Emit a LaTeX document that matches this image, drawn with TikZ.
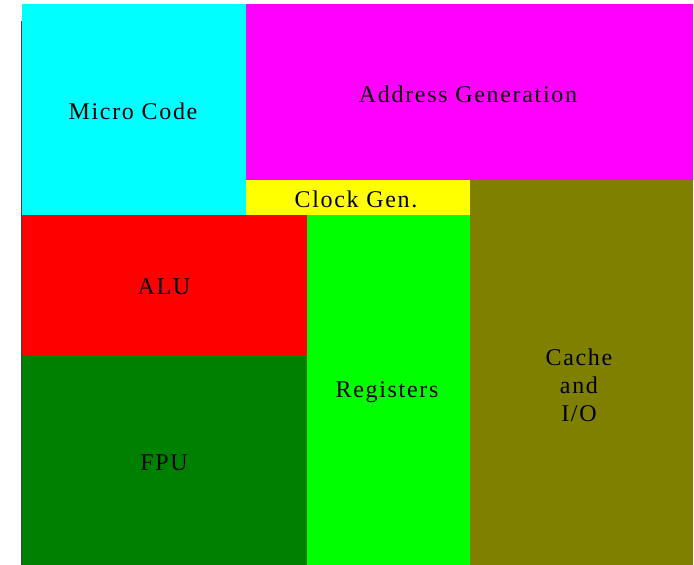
\documentclass[tikz,border=0pt]{standalone}
\usepackage{fontspec}
\newfontfamily\lblfont[LetterSpace=7]{Liberation Serif}
\definecolor{microcol}{RGB}{0,255,255}
\definecolor{addrcol}{RGB}{255,0,255}
\definecolor{clockcol}{RGB}{255,255,0}
\definecolor{alucol}{RGB}{255,0,0}
\definecolor{fpucol}{RGB}{0,128,0}
\definecolor{regscol}{RGB}{0,255,0}
\definecolor{cachecol}{RGB}{128,128,0}
\begin{document}
\begin{tikzpicture}[x=1pt,y=-1pt,lbl/.style={font=\lblfont\fontsize{24}{28}\selectfont,align=center,inner sep=0pt}]
		\useasboundingbox (0,0) rectangle (694,565);
		% blocks of the chip
		\fill[microcol] (22,4) rectangle (246,215);
		\fill[addrcol] (246,4) rectangle (693,180);
		\fill[clockcol] (246,180) rectangle (470,215);
		\fill[alucol] (21,215) rectangle (307,355);
		\fill[fpucol] (21,355) rectangle (307,565);
		\fill[regscol] (307,215) rectangle (470,565);
		\fill[cachecol] (470,180) rectangle (693,565);
		\draw[black!75,line width=1pt] (21.5,21) -- (21.5,565);
		% labels
		\node[lbl] (micro) at (133,111) {Micro Code};
		\node[lbl] (addr) at (468,94) {Address Generation};
		\node[lbl] (clock) at (356,199) {Clock Gen.};
		\node[lbl] (alu) at (164,287) {ALU};
		\node[lbl] (fpu) at (164,463) {FPU};
		\node[lbl] (regs) at (387,392) {Registers};
		\node[lbl] (cache) at (579,385) {Cache\\and\\I/O};
\end{tikzpicture}
\end{document}
